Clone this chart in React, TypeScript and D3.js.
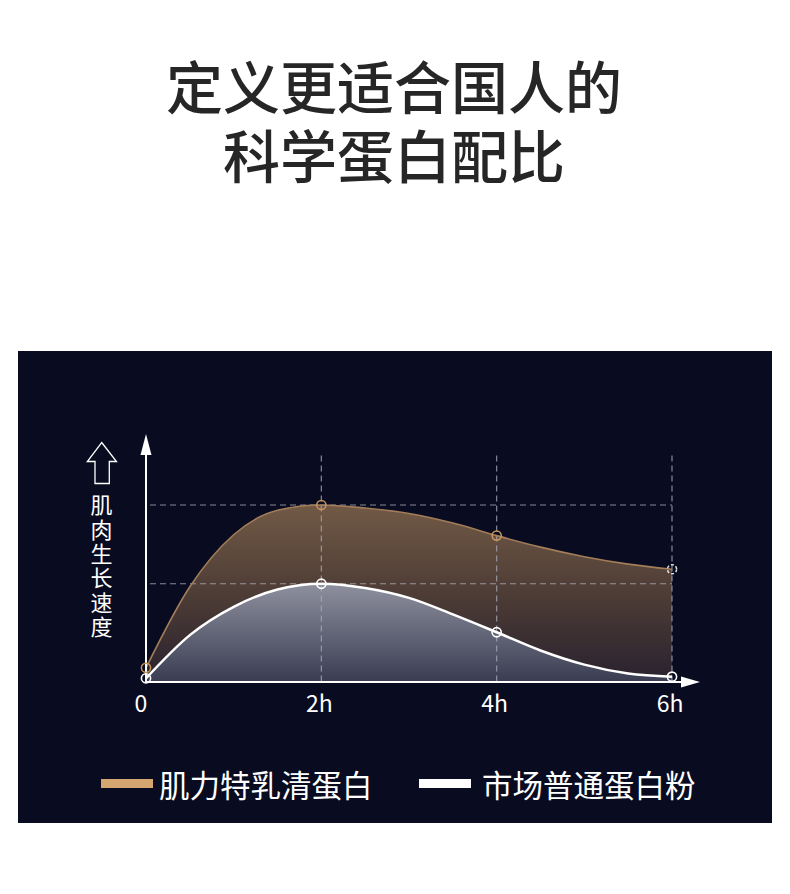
import * as d3 from 'd3';
import React from 'react';

// Values (hours vs. relative growth speed)
const hours = [0, 0.5, 1, 1.5, 2, 2.5, 3, 3.5, 4, 4.5, 5, 5.5, 6];
const wheyValues = [8, 53.8, 83.2, 97, 100, 98.3, 95.2, 89.8, 82.7, 76.2, 70.8, 66.6, 63.7];
const commonValues = [2.1, 26.5, 42.5, 52.3, 55.5, 53.1, 47.5, 38.2, 28.1, 17.8, 9.8, 4.8, 3.0];
const markerHours = [0, 2, 4, 6];
const tickHours = [0, 2, 4, 6];
const tickLabels = ['0', '2h', '4h', '6h'];
const gridHours = [2, 4, 6];
const gridTop = 128;
const yLabel = '肌肉生长速度';
const seriesNames = ['肌力特乳清蛋白', '市场普通蛋白粉'];
const titleLines = ['定义更适合国人的', '科学蛋白配比'];

const FONT = '"Noto Sans CJK SC", "Noto Sans", sans-serif';

export default function App() {
  const x = d3.scaleLinear().domain([0, 6]).range([146, 672]);
  const y = d3.scaleLinear().domain([0, 100]).range([682, 505]);

  const whey = hours.map((h, i) => ({ h, v: wheyValues[i] }));
  const common = hours.map((h, i) => ({ h, v: commonValues[i] }));
  const atMarkers = (s: { h: number; v: number }[]) => s.filter(d => markerHours.includes(d.h));

  const area = d3
    .area<{ h: number; v: number }>()
    .x(d => x(d.h))
    .y0(y(0))
    .y1(d => y(d.v))
    .curve(d3.curveMonotoneX);
  const line = d3
    .line<{ h: number; v: number }>()
    .x(d => x(d.h))
    .y(d => y(d.v))
    .curve(d3.curveMonotoneX);

  const x0 = x(0);
  const y0 = y(0);
  const wheyPeak = d3.max(wheyValues) as number;
  const commonPeak = d3.max(commonValues) as number;

  return (
    <svg
      width={790}
      height={894}
      style={{ position: 'absolute', left: 0, top: 0, background: '#fff' }}
      fontFamily={FONT}
    >
      <defs>
        <linearGradient id="wheyFill" gradientUnits="userSpaceOnUse" x1={0} y1={y(100)} x2={0} y2={y0}>
          <stop offset="0%" stopColor="#715945" />
          <stop offset="55%" stopColor="#4a3a35" />
          <stop offset="100%" stopColor="#29212e" />
        </linearGradient>
        <linearGradient id="commonFill" gradientUnits="userSpaceOnUse" x1={0} y1={y(commonPeak)} x2={0} y2={y0}>
          <stop offset="0%" stopColor="#8e909e" />
          <stop offset="100%" stopColor="#3a3d52" />
        </linearGradient>
      </defs>

      {/* title */}
      <text textAnchor="middle" dominantBaseline="central" fontSize={57} fontWeight={500} fill="#262626">
        {titleLines.map((t, i) => (
          <tspan key={t} x={394} y={84 + i * 68.5}>
            {t}
          </tspan>
        ))}
      </text>

      {/* dark panel */}
      <rect x={18} y={351} width={754} height={472} fill="#090c20" />

      {/* areas */}
      <path d={area(whey) as string} fill="url(#wheyFill)" />
      <path d={area(common) as string} fill="url(#commonFill)" />

      {/* dashed guides */}
      <g stroke="#a8a8b4" strokeOpacity={0.8} strokeWidth={1.2} strokeDasharray="6,4" fill="none">
        {[wheyPeak, commonPeak].map(v => (
          <line key={v} x1={150} x2={x(6)} y1={y(v)} y2={y(v)} />
        ))}
        {gridHours.map(h => (
          <line key={h} x1={x(h)} x2={x(h)} y1={y(gridTop)} y2={y0} />
        ))}
      </g>

      {/* lines */}
      <path d={line(whey) as string} fill="none" stroke="#a37d5a" strokeWidth={1.6} />
      <path d={line(common) as string} fill="none" stroke="#ffffff" strokeWidth={2.5} />

      {/* axes */}
      <g fill="#fff" stroke="#fff">
        <line x1={x0} x2={x0} y1={y0} y2={450} strokeWidth={2} />
        <path d={`M${x0},434 L${x0 + 5.5},455 L${x0 - 5.5},455 Z`} stroke="none" />
        <line x1={x0} x2={688} y1={y0} y2={y0} strokeWidth={2} />
        <path d={`M700,${y0} L681,${y0 - 5.5} L681,${y0 + 5.5} Z`} stroke="none" />
      </g>

      {/* markers */}
      {atMarkers(whey).map((d, i, arr) => (
        <circle
          key={`w${d.h}`}
          cx={x(d.h)}
          cy={y(d.v)}
          r={4.6}
          fill="none"
          stroke={i === arr.length - 1 ? '#e6e2de' : '#c9955e'}
          strokeWidth={1.5}
          strokeDasharray={i === arr.length - 1 ? '3,2' : undefined}
        />
      ))}
      {atMarkers(common).map(d => (
        <circle
          key={`c${d.h}`}
          cx={x(d.h)}
          cy={y(d.v)}
          r={4.6}
          fill="none"
          stroke="#fff"
          strokeWidth={1.6}
        />
      ))}

      {/* tick labels */}
      {tickHours.map((h, i) => (
        <text
          key={h}
          x={x(h) - (i === 0 ? 5 : 2)}
          y={712}
          textAnchor="middle"
          fontSize={23}
          fill="#fff"
        >
          {tickLabels[i]}
        </text>
      ))}

      {/* y label with hollow arrow */}
      <path
        d="M101.7,442.5 L116.5,461.5 L109.3,461.5 L109.3,483.5 L95,483.5 L95,461.5 L87.3,461.5 Z"
        fill="none"
        stroke="#fff"
        strokeWidth={1.3}
        strokeLinejoin="miter"
      />
      <text
        x={101.5}
        y={494}
        fontSize={22}
        fill="#fff"
        letterSpacing={2.3}
        style={{ writingMode: 'vertical-rl' }}
      >
        {yLabel}
      </text>

      {/* legend */}
      <rect x={101} y={779} width={52} height={9} fill="#d4a571" />
      <text x={159} y={784} dominantBaseline="central" fontSize={30.5} fill="#fff">
        {seriesNames[0]}
      </text>
      <rect x={419} y={779} width={52} height={9} fill="#fff" />
      <text x={482} y={784} dominantBaseline="central" fontSize={30.5} fill="#fff">
        {seriesNames[1]}
      </text>
    </svg>
  );
}
